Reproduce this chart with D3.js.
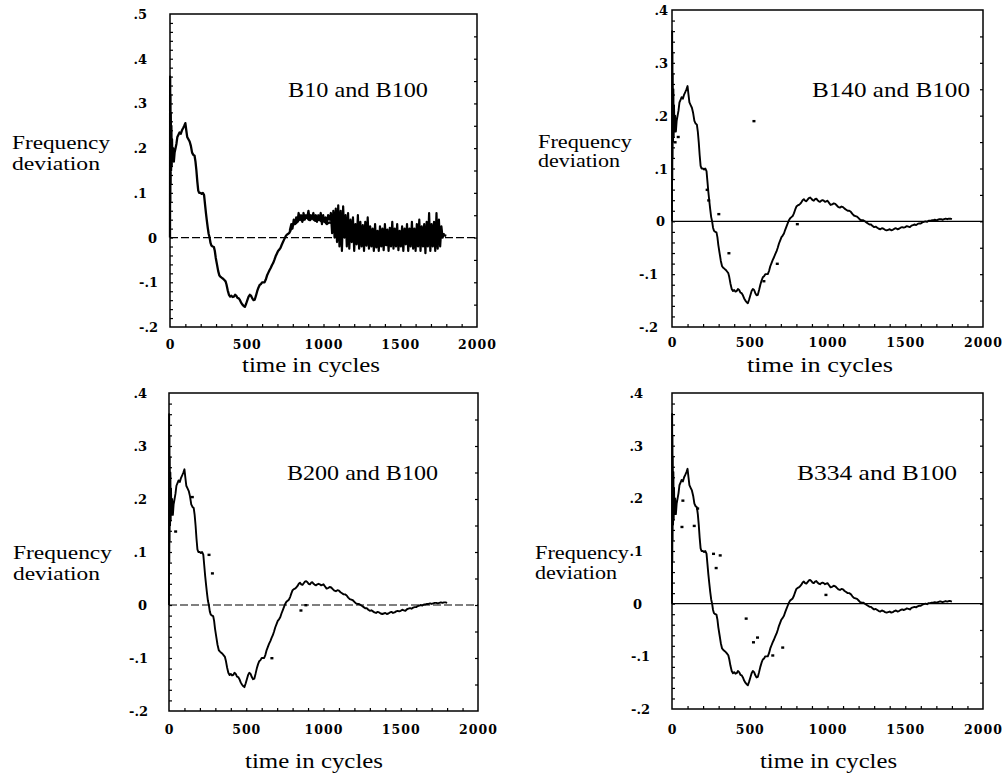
<!DOCTYPE html>
<html><head><meta charset="utf-8">
<script src="https://cdn.jsdelivr.net/npm/d3@7"></script>
<style>body{margin:0;background:#fff}svg{display:block}</style>
</head><body><svg id="c" width="1003" height="774"></svg>
<script>
// ---------------- data ----------------
const panelTitles = ["B10 and B100", "B140 and B100", "B200 and B100", "B334 and B100"];
const xTickValues = [0, 500, 1000, 1500, 2000];
const yTicksTall = [0.5, 0.4, 0.3, 0.2, 0.1, 0, -0.1, -0.2];
const yTicksShort = [0.4, 0.3, 0.2, 0.1, 0, -0.1, -0.2];
const yLabel = ["Frequency", "deviation"];
const xLabel = "time in cycles";

// reference bus B100 (solid line), [cycle, deviation]
const b100 = [[0,0],[1,0.36],[2,0.08],[3,0.32],[4,0.12],[5,0.28],[7,0.15],[9,0.25],[11,0.16],[13,0.22],[16,0.17],[20,0.2],[25,0.17],[30,0.19],[36,0.2],[42,0.21],[48,0.225],[55,0.23],[62,0.235],[70,0.232],[78,0.24],[86,0.245],[93,0.25],[100,0.256],[106,0.24],[112,0.225],[120,0.22],[128,0.215],[136,0.205],[144,0.19],[152,0.185],[160,0.183],[166,0.17],[172,0.15],[178,0.125],[184,0.105],[190,0.1],[198,0.1],[206,0.098],[214,0.1],[222,0.095],[228,0.075],[234,0.055],[240,0.038],[246,0.022],[252,0.008],[258,0.0],[264,-0.012],[270,-0.018],[278,-0.02],[286,-0.021],[292,-0.03],[298,-0.045],[306,-0.06],[314,-0.075],[322,-0.085],[330,-0.088],[338,-0.09],[346,-0.092],[354,-0.095],[362,-0.098],[368,-0.105],[376,-0.118],[384,-0.128],[392,-0.132],[400,-0.13],[408,-0.133],[416,-0.132],[424,-0.128],[432,-0.13],[440,-0.135],[448,-0.136],[456,-0.14],[464,-0.146],[472,-0.15],[480,-0.153],[488,-0.155],[496,-0.148],[504,-0.14],[512,-0.132],[520,-0.128],[528,-0.13],[536,-0.136],[544,-0.14],[552,-0.139],[560,-0.13],[568,-0.12],[576,-0.112],[584,-0.106],[592,-0.104],[600,-0.1],[608,-0.1],[616,-0.1],[624,-0.094],[632,-0.085],[640,-0.079],[648,-0.073],[656,-0.068],[664,-0.062],[672,-0.057],[680,-0.05],[688,-0.042],[696,-0.036],[704,-0.03],[712,-0.027],[720,-0.023],[728,-0.016],[736,-0.01],[744,-0.004],[752,0.002],[760,0.006],[768,0.008],[776,0.01],[784,0.015],[792,0.022],[800,0.028],[808,0.03],[816,0.031],[824,0.033],[832,0.036],[840,0.04],[848,0.042],[856,0.039],[864,0.038],[872,0.041],[880,0.044],[888,0.045],[896,0.043],[904,0.04],[912,0.039],[920,0.042],[928,0.043],[936,0.04],[944,0.038],[952,0.037],[960,0.039],[968,0.04],[976,0.039],[984,0.037],[992,0.038],[1000,0.039],[1010,0.035],[1020,0.031],[1030,0.032],[1040,0.034],[1050,0.033],[1060,0.03],[1070,0.027],[1080,0.026],[1090,0.028],[1100,0.027],[1110,0.024],[1120,0.022],[1130,0.02],[1140,0.02],[1150,0.018],[1160,0.014],[1170,0.011],[1180,0.01],[1190,0.009],[1200,0.006],[1210,0.003],[1220,0.002],[1230,0.002],[1240,0.0],[1250,-0.002],[1260,-0.004],[1270,-0.006],[1280,-0.006],[1290,-0.009],[1300,-0.011],[1310,-0.01],[1320,-0.012],[1330,-0.014],[1340,-0.015],[1350,-0.013],[1360,-0.014],[1370,-0.016],[1380,-0.017],[1390,-0.016],[1400,-0.015],[1410,-0.017],[1420,-0.016],[1430,-0.014],[1440,-0.013],[1450,-0.015],[1460,-0.014],[1470,-0.012],[1480,-0.011],[1490,-0.012],[1500,-0.011],[1510,-0.009],[1520,-0.01],[1530,-0.011],[1540,-0.008],[1550,-0.007],[1560,-0.006],[1570,-0.007],[1580,-0.005],[1590,-0.004],[1600,-0.004],[1610,-0.002],[1620,-0.001],[1630,0.0],[1640,-0.001],[1650,0.001],[1660,0.001],[1670,0.002],[1680,0.002],[1690,0.003],[1700,0.002],[1710,0.003],[1720,0.004],[1730,0.004],[1740,0.003],[1750,0.004],[1760,0.005],[1770,0.004],[1780,0.005],[1790,0.005],[1800,0.004]];

// B10 (oscillating line, panel 1)
const b10 = [[780,0.015],[790,0.03],[798,0.02],[806,0.04],[814,0.03],[822,0.045],[830,0.035],[838,0.055],[846,0.04],[854,0.05],[862,0.035],[870,0.055],[878,0.04],[886,0.05],[894,0.045],[902,0.06],[910,0.04],[918,0.05],[926,0.045],[934,0.055],[942,0.04],[950,0.05],[958,0.035],[966,0.05],[974,0.04],[982,0.055],[990,0.03],[998,0.05],[1006,0.035],[1014,0.045],[1022,0.03],[1030,0.05],[1040,0.04],[1048,0.055],[1056,0.01],[1064,0.06],[1072,0.0],[1080,0.065],[1088,-0.01],[1096,0.072],[1104,-0.02],[1112,0.06],[1120,-0.03],[1128,0.07],[1136,0.0],[1144,0.05],[1152,-0.02],[1160,0.055],[1168,-0.025],[1176,0.04],[1184,-0.01],[1192,0.045],[1200,-0.03],[1208,0.03],[1216,-0.015],[1224,0.05],[1232,-0.025],[1240,0.035],[1248,-0.02],[1256,0.028],[1264,-0.03],[1272,0.035],[1280,-0.018],[1288,0.045],[1296,-0.025],[1304,0.025],[1312,-0.02],[1320,0.02],[1328,-0.03],[1336,0.03],[1344,-0.022],[1352,0.015],[1360,-0.03],[1368,0.025],[1376,-0.02],[1384,0.02],[1392,-0.028],[1400,0.03],[1408,-0.015],[1416,0.018],[1424,-0.03],[1432,0.022],[1440,-0.02],[1448,0.035],[1456,-0.025],[1464,0.02],[1472,-0.02],[1480,0.03],[1488,-0.028],[1496,0.015],[1504,-0.02],[1512,0.025],[1520,-0.03],[1528,0.02],[1536,-0.015],[1544,0.03],[1552,-0.03],[1560,0.02],[1568,-0.02],[1576,0.035],[1584,-0.025],[1592,0.02],[1600,-0.03],[1608,0.03],[1616,-0.02],[1624,0.04],[1632,-0.03],[1640,0.025],[1648,-0.02],[1656,0.03],[1664,-0.035],[1672,0.035],[1680,-0.02],[1688,0.055],[1696,-0.03],[1704,0.03],[1712,-0.02],[1720,0.035],[1728,-0.03],[1736,0.055],[1744,-0.025],[1752,0.04],[1760,-0.02],[1768,0.025],[1776,0.0],[1785,0.01]];

// points where the other bus departs from B100 (drawn as dots)
const b140 = [[20,0.15],[40,0.16],[226,0.06],[236,0.04],[301,0.014],[366,-0.06],[527,0.19],[591,-0.113],[677,-0.08],[806,-0.005]];
const b200 = [[43,0.139],[151,0.204],[259,0.095],[281,0.06],[666,-0.1],[854,-0.01],[886,0.0]];
const b334 = [[64,0.146],[70,0.196],[143,0.148],[165,0.181],[267,0.095],[284,0.068],[310,0.092],[477,-0.028],[524,-0.073],[550,-0.064],[648,-0.098],[712,-0.083],[990,0.017]];

// ---------------- layout ----------------
const layout = [
  {x0:170,x1:477,yT:14,yB:327,ticks:yTicksTall,other:b10,otherLine:true,tX:288,tY:97,tW:140,lX:12,lW:[98,88],lY:[149,170],xlY:350,xtX:242,xtY:372,xtW:138,zeroDash:"8,3",lp:[147,157,158]},
  {x0:672,x1:983,yT:10,yB:327,ticks:yTicksShort,other:b140,otherLine:false,tX:812,tY:97,tW:158,lX:538,lW:[94,82],lY:[148,167],xlY:348,xtX:747,xtY:372,xtW:146,zeroDash:null,lp:[668,665,658]},
  {x0:169,x1:478,yT:393,yB:711,ticks:yTicksShort,other:b200,otherLine:false,tX:287,tY:480,tW:151,lX:13,lW:[99,87],lY:[559,580],xlY:735,xtX:245,xtY:768,xtW:138,zeroDash:"8,3",lp:[147,147,148]},
  {x0:672,x1:983,yT:393,yB:709,ticks:yTicksShort,other:b334,otherLine:false,tX:797,tY:480,tW:160,lX:535,lW:[94,82],lY:[559,579],xlY:735,xtX:760,xtY:768,xtW:137,zeroDash:null,lp:[643,642,650]}
];

const svg = d3.select("#c");
const serif = "'Liberation Serif','Times New Roman',serif";
const fmt = v => v === 0 ? "0" : (v < 0 ? "-" : "") + "." + Math.round(Math.abs(v) * 10);

layout.forEach((L, i) => {
  const yMax = L.ticks[0];
  const x = d3.scaleLinear().domain([0, 2000]).range([L.x0, L.x1]);
  const y = d3.scaleLinear().domain([-0.2, yMax]).range([L.yB, L.yT]);
  const g = svg.append("g");

  // frame
  g.append("rect").attr("x", L.x0).attr("y", L.yT).attr("width", L.x1 - L.x0).attr("height", L.yB - L.yT)
    .attr("fill", "none").attr("stroke", "#000").attr("stroke-width", 1.5);

  // minor inward ticks
  const minorX = d3.range(100, 2000, 100);
  const minorY = d3.range(-0.18, yMax - 0.001, 0.02);
  g.append("g").attr("transform", `translate(0,${L.yB})`)
    .call(d3.axisBottom(x).tickValues(minorX).tickSize(-3).tickFormat(""))
    .call(a => a.select(".domain").remove());
  g.append("g").attr("transform", `translate(${L.x0},0)`)
    .call(d3.axisLeft(y).tickValues(minorY).tickSize(-3).tickFormat(""))
    .call(a => a.select(".domain").remove());
  g.append("g").attr("transform", `translate(${L.x1},0)`)
    .call(d3.axisRight(y).tickValues(d3.range(-0.15, yMax, 0.05)).tickSize(-3).tickFormat(""))
    .call(a => a.select(".domain").remove());
  g.selectAll(".tick line").attr("stroke", "#000").attr("stroke-width", 1.2);

  // zero line
  g.append("line").attr("x1", L.x0).attr("x2", L.x1).attr("y1", y(0)).attr("y2", y(0))
    .attr("stroke", "#000").attr("stroke-width", 1.2).attr("stroke-dasharray", L.zeroDash);

  // y tick labels
  g.selectAll("text.yl").data(L.ticks).join("text").attr("class", "yl")
    .attr("x", d => d > 0 ? L.lp[0] : d === 0 ? L.lp[1] : L.lp[2])
    .attr("y", d => y(d) + 5)
    .attr("text-anchor", "end")
    .style("font-family", "'DejaVu Serif',serif").style("font-weight", "bold").style("font-size", "13px")
    .text(fmt);

  // x tick labels
  g.append("g").attr("transform", `translate(0,${L.yB})`)
    .call(d3.axisBottom(x).tickValues(xTickValues).tickSize(0).tickPadding(L.xlY - L.yB - 10).tickFormat(d3.format("d")))
    .call(a => a.select(".domain").remove())
    .selectAll("text").attr("fill", "#000")
    .style("font-family", "'DejaVu Serif',serif").style("font-weight", "bold").style("font-size", "12.5px")
    .style("letter-spacing", "1px");

  // curves
  const line = d3.line().x(d => x(d[0])).y(d => y(d[1]));
  g.append("path").datum(b100).attr("d", line).attr("fill", "none")
    .attr("stroke", "#000").attr("stroke-width", i === 0 ? 2.3 : 1.9).attr("stroke-linejoin", "round");
  if (L.otherLine) {
    g.append("path").datum(L.other).attr("d", line).attr("fill", "none")
      .attr("stroke", "#000").attr("stroke-width", 2.2).attr("stroke-linejoin", "round");
  } else {
    g.selectAll("rect.pt").data(L.other).join("rect").attr("class", "pt")
      .attr("x", d => x(d[0]) - 1.5).attr("y", d => y(d[1]) - 1)
      .attr("width", 3).attr("height", 2.4).attr("fill", "#000");
  }

  // title
  g.append("text").attr("x", L.tX).attr("y", L.tY)
    .attr("textLength", L.tW).attr("lengthAdjust", "spacingAndGlyphs")
    .style("font-family", serif).style("font-size", "21px").text(panelTitles[i]);

  // y label
  yLabel.forEach((t, k) => {
    g.append("text").attr("x", L.lX).attr("y", L.lY[k])
      .attr("textLength", L.lW[k]).attr("lengthAdjust", "spacingAndGlyphs")
      .style("font-family", serif).style("font-size", "19px").text(t);
  });

  // x label
  g.append("text").attr("x", L.xtX).attr("y", L.xtY)
    .attr("textLength", L.xtW).attr("lengthAdjust", "spacingAndGlyphs")
    .style("font-family", serif).style("font-size", "20px").text(xLabel);
});
</script></body></html>
